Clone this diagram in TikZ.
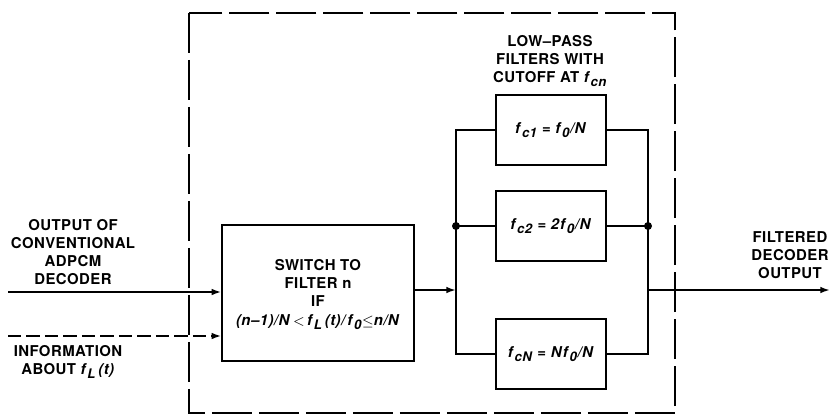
\documentclass[tikz,border=0pt]{standalone}
\usepackage{fontspec}
\setmainfont{TeX Gyre Heros}[LetterSpace=3]
\usepackage{tikz}
\usetikzlibrary{arrows.meta,calc,positioning}
\newcommand{\fsub}[2]{\textit{#1}\raisebox{-0.45ex}{\fontsize{7.5}{7.5}\selectfont\textit{#2}}}

\begin{document}
\begin{tikzpicture}[x=0.02cm,y=-0.02cm,>={Latex[length=5.5pt,width=3.8pt]},
  every node/.style={font=\fontsize{8.5}{10.3}\selectfont\bfseries},
  blockbox/.style={draw,line width=0.8pt,minimum width=3.84cm,minimum height=2.72cm,align=center,inner sep=2pt},
  filterbox/.style={draw,line width=0.8pt,minimum width=2.2cm,minimum height=1.4cm},
  wire/.style={line width=1.1pt},
  lbl/.style={align=center}]
  \useasboundingbox (0,0) rectangle (833,417);
  % dashed frame round the decoder filter
  \draw[line width=0.8pt,dash pattern=on 0.8cm off 0.14cm] (189,13) rectangle (675,413);
  \node[blockbox] (switch) at (318,293) {};
  \node[lbl,anchor=north] at (318,253) {SWITCH TO\\FILTER n\\IF};
  \node[lbl] at (318,322) {\textit{(n--1)/N}\,$<$\,\fsub{f}{L}\,\textit{(t)/}\fsub{f}{0}$\le$\textit{n/N}};
  \node[filterbox] (fc1) at (551,130) {\fsub{f}{c1} = \fsub{f}{0}\textit{/N}};
  \node[filterbox] (fc2) at (551,226) {\fsub{f}{c2} = \textit{2}\fsub{f}{0}\textit{/N}};
  \node[filterbox] (fcN) at (551,354) {\fsub{f}{cN} = \textit{N}\fsub{f}{0}\textit{/N}};
  \coordinate (in1) at (8,292);
  \coordinate (in2) at (8,336);
  \coordinate (busL) at (456,290);
  \coordinate (busR) at (648,290);
  \coordinate (out) at (830,290);
  % inputs
  \draw[wire,->] (in1) -- (in1 -| switch.west);
  \draw[wire,->,dash pattern=on 0.27cm off 0.1cm] (in2) -- (in2 -| switch.west);
  \draw[wire,->] (switch.east |- busL) -- (busL);
  % parallel filter bank
  \draw[wire] (fc1.west) -| (busL) |- (fcN.west);
  \draw[wire] (fc1.east) -| (busR) |- (fcN.east);
  \draw[wire] (fc2.west) -- (fc2.west -| busL);
  \draw[wire] (fc2.east) -- (fc2.east -| busR);
  \fill (fc2.west -| busL) circle (4);
  \fill (fc2.east -| busR) circle (4);
  \draw[wire,->] (busR) -- (out);
  % labels
  \node[lbl] at (73,252) {OUTPUT OF\\CONVENTIONAL\\ADPCM\\DECODER};
  \node[lbl] at (68,362) {INFORMATION\\ABOUT \fsub{f}{L}\,\textit{(t)}};
  \node[lbl] at (550,61) {LOW--PASS\\FILTERS WITH\\CUTOFF AT \fsub{f}{cn}};
  \node[lbl] at (790,255) {FILTERED\\DECODER\\OUTPUT};
\end{tikzpicture}
\end{document}
